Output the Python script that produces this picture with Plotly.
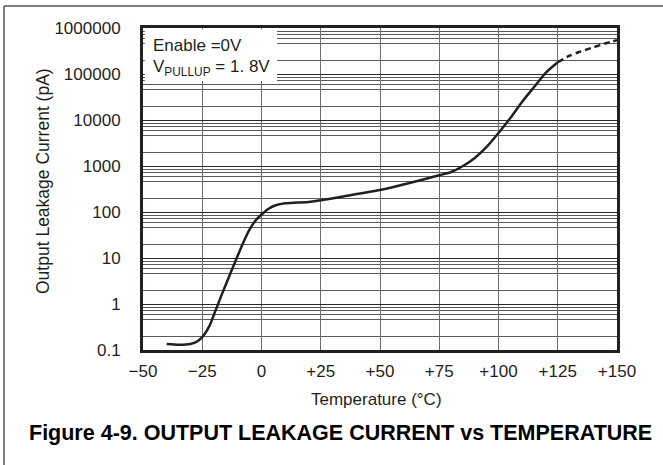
import plotly.graph_objects as go

# Data
temp_solid = [-40, -35, -30, -27, -25, -22, -20, -17, -14, -11, -8, -5, -2, 0, 3, 6, 10, 15, 20, 25, 35, 50, 62, 75, 80, 85, 90, 95, 100, 105, 110, 115, 120, 125]
leak_solid = [0.135, 0.13, 0.135, 0.155, 0.19, 0.33, 0.6, 1.5, 3.6, 8.5, 20, 42, 70, 88, 118, 140, 155, 160, 165, 180, 220, 300, 420, 630, 740, 1000, 1500, 2600, 5200, 11000, 25000, 52000, 107000, 180000]
temp_dash = [125, 130, 134, 140, 145, 150]
leak_dash = [180000, 250000, 300000, 380000, 460000, 540000]

x_ticks = [-50, -25, 0, 25, 50, 75, 100, 125, 150]
x_labels = ["\u221250", "\u221225", "0", "+25", "+50", "+75", "+100", "+125", "+150"]
y_ticks = [0.1, 1, 10, 100, 1000, 10000, 100000, 1000000]
y_labels = ["0.1", "1", "10", "100", "1000", "10000", "100000", "1000000"]
minor_mult = [2, 4.5, 6, 7.4, 8.6]

FONT = "Liberation Sans, Arial, sans-serif"
INK = "#231f20"

minor_vals = [d * m for d in y_ticks[:-1] for m in minor_mult]

fig = go.Figure()
fig.add_trace(go.Scatter(x=temp_solid, y=leak_solid, mode="lines",
                         line=dict(color=INK, width=2.5, shape="spline", smoothing=0.7),
                         showlegend=False))
fig.add_trace(go.Scatter(x=temp_dash, y=leak_dash, mode="lines",
                         line=dict(color=INK, width=2.5, shape="spline", smoothing=0.7, dash="6px,4px"),
                         showlegend=False))

W, H = 663, 465
L, R, T, B = 143, 46, 28, 115
pw, ph = W - L - R, H - T - B

def px(xp):
    return (xp - L) / pw

def py(yp):
    return (H - B - yp) / ph

fig.update_layout(
    width=W, height=H,
    margin=dict(l=L, r=R, t=T, b=B),
    paper_bgcolor="white", plot_bgcolor="white",
    font=dict(family=FONT, size=17, color=INK),
    xaxis=dict(range=[-50, 150], tickvals=x_ticks, ticktext=x_labels,
               showgrid=True, gridcolor="#6e6e6e", gridwidth=1.2,
               showline=True, linecolor=INK, linewidth=3, mirror=True,
               ticks="", ticklabelstandoff=4, zeroline=False,
               tickfont=dict(size=17, color=INK)),
    yaxis=dict(type="log", range=[-1, 6], tickvals=y_ticks, ticktext=y_labels,
               showgrid=True, gridcolor="#2a2a2a", gridwidth=1.2,
               minor=dict(tickvals=minor_vals, showgrid=True, gridcolor="#5a5a5a", gridwidth=1, ticks=""),
               showline=True, linecolor=INK, linewidth=3, mirror=True,
               ticks="", ticklabelstandoff=16, zeroline=False,
               tickfont=dict(size=17, color=INK)),
)

shapes = [
    # legend background box
    dict(type="rect", xref="paper", yref="paper", x0=0.004, x1=px(277), y0=py(81), y1=0.996,
         fillcolor="white", line=dict(width=0), layer="above"),
    # outer frame (left and top)
    dict(type="line", xref="paper", yref="paper", x0=px(4), x1=px(4), y0=py(465), y1=py(6),
         line=dict(color="#555555", width=1.5)),
    dict(type="line", xref="paper", yref="paper", x0=px(4), x1=px(663), y0=py(6), y1=py(6),
         line=dict(color="#555555", width=1.5)),
]
fig.update_layout(shapes=shapes)

annotations = [
    dict(text="Enable =0V", xref="paper", yref="paper", x=px(151), y=py(45),
         xanchor="left", yanchor="middle", showarrow=False, font=dict(size=17, color=INK)),
    dict(text="V<sub>PULLUP</sub> = 1. 8V", xref="paper", yref="paper", x=px(151), y=py(68),
         xanchor="left", yanchor="middle", showarrow=False, font=dict(size=17, color=INK)),
    dict(text="Output Leakage Current (pA)", xref="paper", yref="paper", x=px(43), y=py(181),
         textangle=-90, xanchor="center", yanchor="middle", showarrow=False,
         font=dict(size=17.5, color=INK)),
    dict(text="Temperature (\u00b0C)", xref="paper", yref="paper", x=px(376), y=py(399),
         xanchor="center", yanchor="middle", showarrow=False, font=dict(size=17, color=INK)),
    dict(text="<b>Figure 4-9. OUTPUT LEAKAGE CURRENT vs TEMPERATURE</b>", xref="paper", yref="paper",
         x=px(27), y=py(433), xanchor="left", yanchor="middle", showarrow=False,
         font=dict(size=21.5, color="black")),
]
fig.update_layout(annotations=annotations)

fig.write_html("out.html")
